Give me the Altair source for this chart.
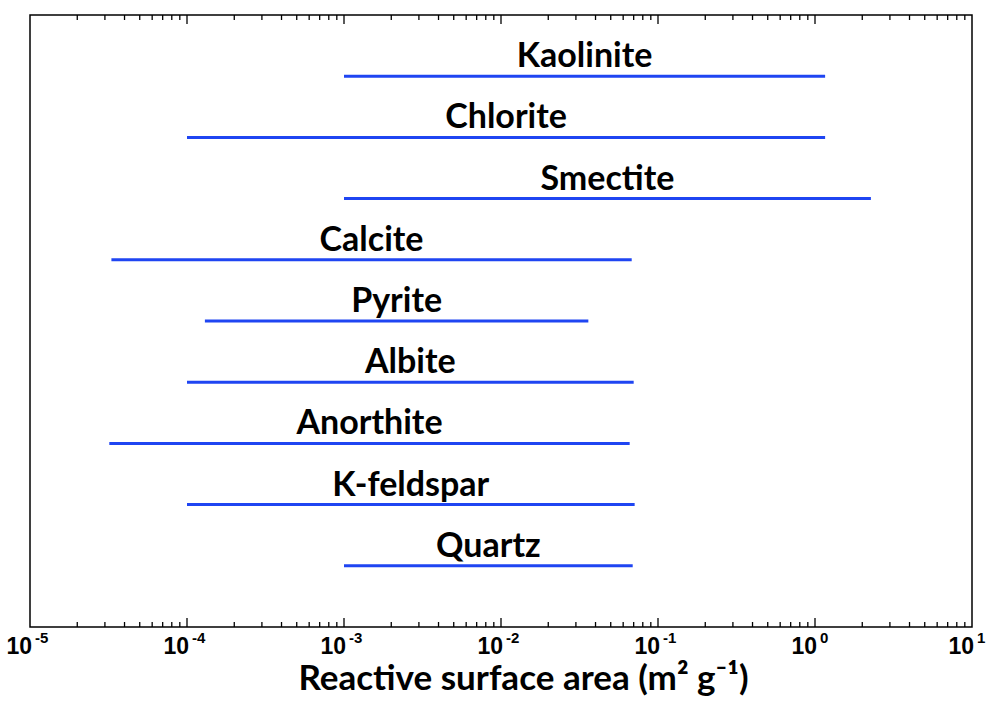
import altair as alt
import pandas as pd

# ---- data ----
minerals = ["Kaolinite", "Chlorite", "Smectite", "Calcite", "Pyrite",
            "Albite", "Anorthite", "K-feldspar", "Quartz"]
low = [1.0e-3, 1.0e-4, 1.0e-3, 3.3e-5, 1.3e-4, 1.0e-4, 3.2e-5, 1.0e-4, 1.0e-3]
high = [1.16, 1.16, 2.27, 0.068, 0.036, 0.070, 0.066, 0.071, 0.069]

major_values = [1e-5, 1e-4, 1e-3, 1e-2, 1e-1, 1e0, 1e1]
major_bases = ["10", "10", "10", "10", "10", "10", "10"]
major_exps = ["-5", "-4", "-3", "-2", "-1", "0", "1"]
minor_mult = [2, 3, 4, 5, 6, 7, 8, 9]
decades = [1e-5, 1e-4, 1e-3, 1e-2, 1e-1, 1e0]

BLUE = "#1f45f2"
W, H = 942, 612

df = pd.DataFrame({"mineral": minerals, "low": low, "high": high,
                   "row": list(range(1, len(minerals) + 1))})
majors = pd.DataFrame({"v": major_values, "base": major_bases, "exp": major_exps})
inner_majors = majors.iloc[1:-1]
minors = pd.DataFrame({"v": [m * d for d in decades for m in minor_mult]})

xs = alt.Scale(type="log", domain=[1e-5, 10], nice=False)
ys = alt.Scale(domain=[0, 10], reverse=True, nice=False)

lines = alt.Chart(df).mark_rule(strokeWidth=3, color=BLUE).encode(
    x=alt.X("low:Q", scale=xs,
            axis=alt.Axis(labels=False, ticks=False, domain=False, grid=False,
                          title="Reactive surface area (m² g⁻¹)",
                          titleFont="Lato", titleFontSize=35,
                          titleFontWeight="bold", titleColor="black",
                          titleX=493, titleY=62, titleAlign="center",
                          titleBaseline="alphabetic")),
    x2="high:Q",
    y=alt.Y("row:Q", scale=ys, axis=None),
)

labels = alt.Chart(df).transform_calculate(
    mid="sqrt(datum.low * datum.high)"
).mark_text(font="Lato", fontWeight="bold", fontSize=34, color="black",
            baseline="alphabetic", align="center", dy=-9).encode(
    x=alt.X("mid:Q", scale=xs),
    y=alt.Y("row:Q", scale=ys),
    text="mineral:N",
)

tick_style = dict(color="black", strokeWidth=1.3)
maj_bot = alt.Chart(inner_majors).mark_rule(**tick_style).encode(
    x=alt.X("v:Q", scale=xs), y=alt.value(H), y2=alt.value(H - 9))
maj_top = alt.Chart(inner_majors).mark_rule(**tick_style).encode(
    x=alt.X("v:Q", scale=xs), y=alt.value(0), y2=alt.value(9))
min_bot = alt.Chart(minors).mark_rule(**tick_style).encode(
    x=alt.X("v:Q", scale=xs), y=alt.value(H), y2=alt.value(H - 5))
min_top = alt.Chart(minors).mark_rule(**tick_style).encode(
    x=alt.X("v:Q", scale=xs), y=alt.value(0), y2=alt.value(5))

base_lbl = alt.Chart(majors).mark_text(
    font="Liberation Sans", fontWeight="bold", fontSize=23, color="black",
    align="right", baseline="alphabetic", dx=2).encode(
    x=alt.X("v:Q", scale=xs), y=alt.value(H + 27), text="base:N")
exp_lbl = alt.Chart(majors).mark_text(
    font="Liberation Sans", fontWeight="bold", fontSize=15, color="black",
    align="left", baseline="alphabetic", dx=5).encode(
    x=alt.X("v:Q", scale=xs), y=alt.value(H + 16), text="exp:N")

chart = alt.layer(lines, labels, maj_bot, maj_top, min_bot, min_top,
                  base_lbl, exp_lbl).properties(
    width=W, height=H,
    autosize=alt.AutoSizeParams(type="none"),
    padding={"left": 30, "top": 15, "right": 18, "bottom": 80},
    background="white",
).configure_view(stroke="black", strokeWidth=1.5)

chart.save("out.html", embed_options={"renderer": "svg", "actions": False})
